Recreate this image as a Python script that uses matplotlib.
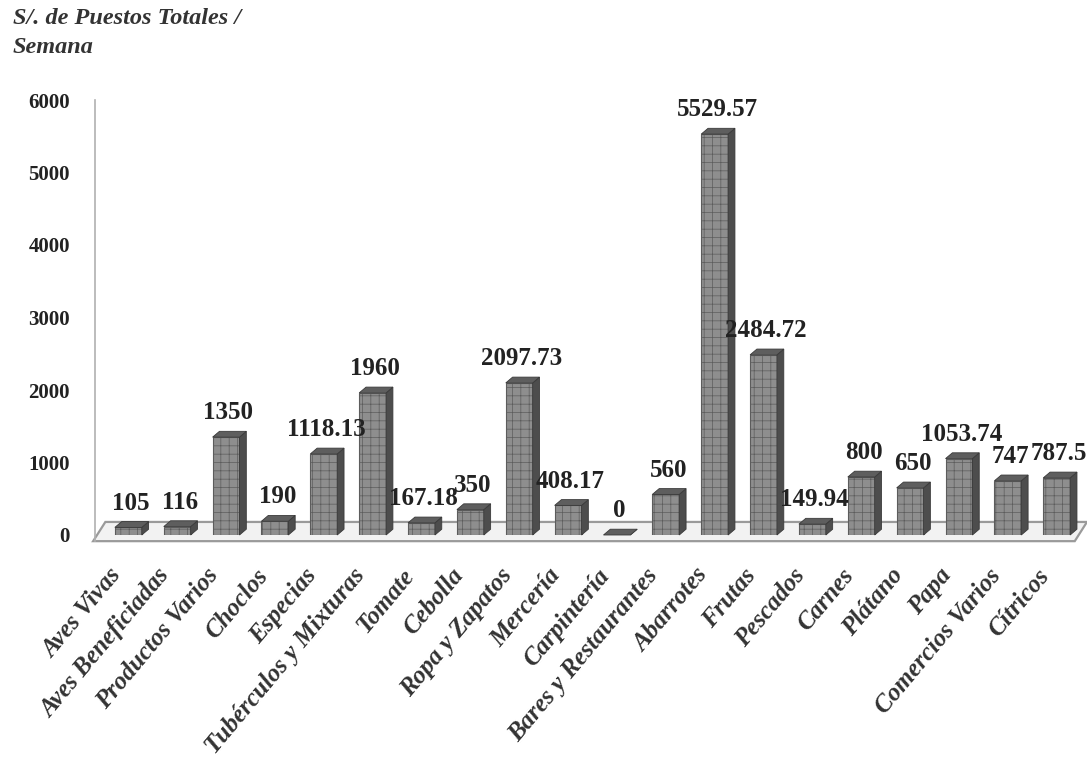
import numpy as np
import matplotlib
matplotlib.use("Agg")
import matplotlib.pyplot as plt
from matplotlib.patches import Polygon

plt.rcParams['font.family'] = ['Liberation Serif', 'DejaVu Serif']
plt.rcParams['hatch.linewidth'] = 0.5

# ---- data ----
categories = ['Aves Vivas', 'Aves Beneficiadas', 'Productos Varios', 'Choclos',
              'Especias', 'Tubérculos y Mixturas', 'Tomate', 'Cebolla',
              'Ropa y Zapatos', 'Mercería', 'Carpintería', 'Bares y Restaurantes',
              'Abarrotes', 'Frutas', 'Pescados', 'Carnes', 'Plátano', 'Papa',
              'Comercios Varios', 'Cítricos']
values = [105, 116, 1350, 190, 1118.13, 1960, 167.18, 350, 2097.73, 408.17,
          0, 560, 5529.57, 2484.72, 149.94, 800, 650, 1053.74, 747, 787.5]
value_labels = ['105', '116', '1350', '190', '1118.13', '1960', '167.18', '350',
                '2097.73', '408.17', '0', '560', '5529.57', '2484.72', '149.94',
                '800', '650', '1053.74', '747', '787.5']
yticks = [0, 1000, 2000, 3000, 4000, 5000, 6000]

# ---- figure ----
fig = plt.figure(figsize=(10.87, 7.70), dpi=100)
ax = fig.add_axes([99/1087, 1-535/770, 987/1087, 435/770])

x = np.arange(len(categories))
w = 0.55       # front face width
dx = 0.14      # depth offset (x, data units)
dy = 80        # depth offset (y, data units)

# floor
floor = Polygon([(-0.72, -85), (19.37, -85), (19.62, 180), (-0.47, 180)],
                closed=True, facecolor='#f2f2f2', edgecolor='#9a9a9a',
                lw=1.6, zorder=1, clip_on=False)
ax.add_patch(floor)

for xi, v in zip(x, values):
    # front face
    ax.bar(xi, v, width=w, color='#8e8e8e', edgecolor='#5c5c5c',
           hatch='++', linewidth=0.8, zorder=3)
    # side face
    side = Polygon([(xi + w/2, 0), (xi + w/2 + dx, dy), (xi + w/2 + dx, v + dy),
                    (xi + w/2, v)], closed=True, facecolor='#4d4d4d',
                   edgecolor='#3a3a3a', lw=0.6, zorder=3, clip_on=False)
    ax.add_patch(side)
    # top face
    top = Polygon([(xi - w/2, v), (xi + w/2, v), (xi + w/2 + dx, v + dy),
                   (xi - w/2 + dx, v + dy)], closed=True, facecolor='#5e5e5e',
                  edgecolor='#3a3a3a', lw=0.6, zorder=3, clip_on=False)
    ax.add_patch(top)

for xi, v, lab in zip(x, values, value_labels):
    ax.annotate(lab, (xi + 0.05, v + dy), xytext=(0, 5), textcoords='offset points',
                ha='center', va='bottom', fontsize=18, fontweight='bold',
                color='#222222', zorder=5)

ax.set_xlim(-0.6, 19.6)
ax.set_ylim(0, 6000)

# spines first (set_position resets the ticks)
for s in ['top', 'right', 'bottom']:
    ax.spines[s].set_visible(False)
ax.spines['left'].set_color('#b0b0b0')
ax.spines['left'].set_linewidth(1.2)
ax.spines['left'].set_position(('outward', 3))
ax.spines['left'].set_bounds(-85, 6000)

ax.set_yticks(yticks)
ax.tick_params(axis='y', length=0, pad=18, labelsize=15, labelcolor='#222222')
for t in ax.get_yticklabels():
    t.set_fontweight('bold')
ax.set_xticks(x)
ax.set_xticklabels([])
ax.tick_params(axis='x', length=0)

# rotated category labels
for xi, lab in zip(x, categories):
    ax.annotate(lab, (xi, 0), xytext=(-2, -21), textcoords='offset points',
                ha='right', va='top', rotation=50, fontsize=18,
                fontweight='bold', fontstyle='italic', color='#333333',
                annotation_clip=False)

fig.text(13/1087, 1-8/770, 'S/. de Puestos Totales /\nSemana', ha='left', va='top',
         fontsize=17.5, fontweight='bold', fontstyle='italic', color='#333333',
         linespacing=1.5)

fig.savefig('out.png', dpi=100)
